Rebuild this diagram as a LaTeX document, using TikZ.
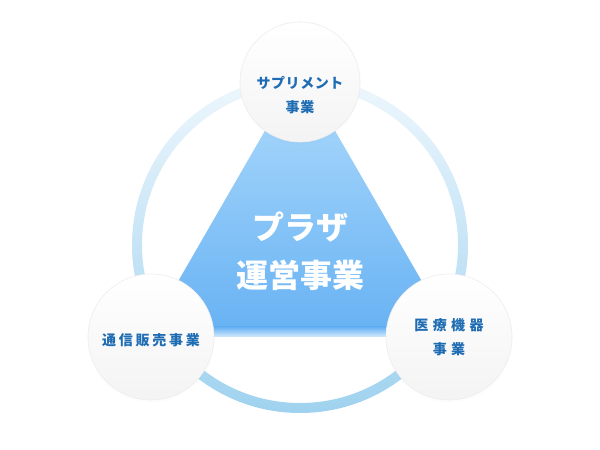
\documentclass[tikz,border=0pt]{standalone}
\usepackage{fontspec}
\setmainfont{Noto Sans CJK JP}
\usetikzlibrary{shadows}

\definecolor{ringtop}{HTML}{EEF7FD}
\definecolor{ringbottom}{HTML}{9FD2EF}
\definecolor{tritop}{HTML}{B0DCFC}
\definecolor{tribottom}{HTML}{66B1F3}
\definecolor{bizblue}{HTML}{1E6CB3}

\begin{document}
\begin{tikzpicture}[x=1pt, y=1pt,
    business/.style={circle, draw=gray!14, line width=0.6pt,
      top color=white, bottom color=gray!9,
      circular drop shadow={opacity=0.07, shadow xshift=0pt, shadow yshift=-2pt, shadow scale=1.02}},
    bizlabel/.style={align=center, text=bizblue, inner sep=0pt},
    centerlabel/.style={align=center, text=white, font=\bfseries\fontsize{32}{48}\selectfont}]
      \def \ringradius {163}
      \def \ringwidth {5} % half of the ring's width
      \def \businesses {
	{サプリメント\\事業}/300/368/60/-13/4,
	{通信販売事業}/151/113/63/-3/20,
	{医療機器\\事業}/449/113/63/0/32
      }

      \useasboundingbox (0,0) rectangle (600,450);

      % ring behind everything
      \path[even odd rule, top color=ringtop, bottom color=ringbottom]
	(300,205) circle (\ringradius+\ringwidth)
	(300,205) circle (\ringradius-\ringwidth);

      % triangle, fading out at its base
      \coordinate (apex) at (300,380);
      \coordinate (base left) at (146,113);
      \coordinate (base right) at (454,113);
      \shade[top color=tritop, bottom color=tribottom]
	(apex) -- (base left) -- (base right) -- cycle;
      \begin{scope}
	\clip (apex) -- (base left) -- (base right) -- cycle;
	\shade[top color=tribottom, bottom color=tribottom!12] (140,111) rectangle (460,123);
      \end{scope}

      \node[centerlabel] (plaza) at (300,199) {プラザ\\運営事業};

      \foreach \t/\x/\y/\r/\dy/\ls [count=\s from 0] in \businesses
      {
	\node[business, minimum size=2*\r] (biz\s) at (\x,\y) {};
	\node[bizlabel, yshift=\dy,
	  font=\bfseries\fontsize{14}{24}\selectfont\addfontfeature{LetterSpace=\ls}]
	  (bizlabel\s) at (biz\s.center) {\t};
      }
\end{tikzpicture}
\end{document}
